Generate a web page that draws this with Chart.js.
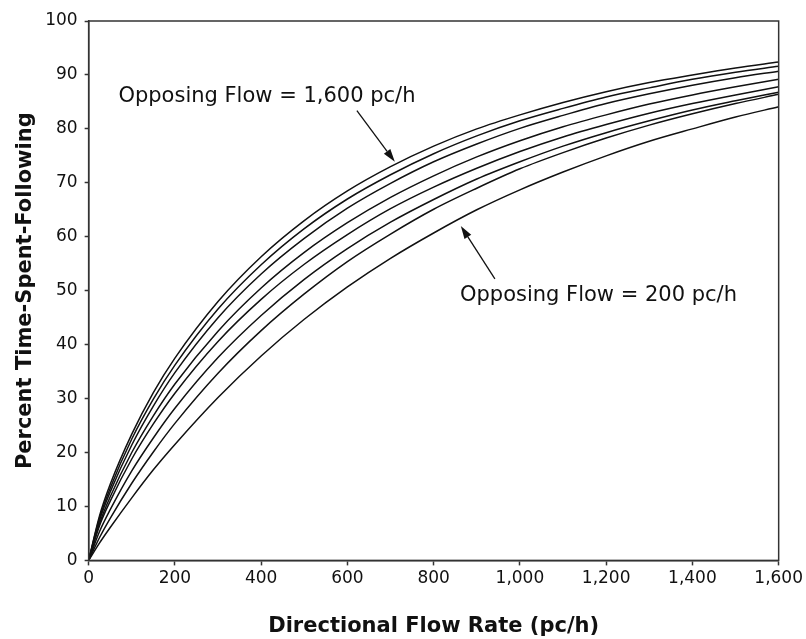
<!DOCTYPE html>
<html>
<head>
<meta charset="utf-8">
<script src="https://cdn.jsdelivr.net/npm/chart.js@4.4.1/dist/chart.umd.min.js"></script>
<style>
  html, body { margin: 0; padding: 0; background: #fff; }
  #wrap { width: 806px; height: 639px; }
</style>
</head>
<body>
<div id="wrap"><canvas id="chart" width="806" height="639"></canvas></div>
<script>
// Directional flow rate (pc/h) sample points
const flowRate = [0, 25, 50, 100, 150, 200, 300, 400, 500, 600, 700, 800, 900, 1000, 1100, 1200, 1300, 1400, 1500, 1600];

// Percent time-spent-following, one curve per opposing flow
const opp200  = [0, 3.2, 6.1, 11.6, 16.8, 21.5, 30.2, 37.9, 44.7, 50.7, 56.0, 60.7, 65.0, 68.7, 72.0, 75.0, 77.7, 80.0, 82.2, 84.1];
const opp400  = [0, 4.2, 7.8, 14.3, 20.1, 25.4, 34.7, 42.6, 49.4, 55.4, 60.5, 65.1, 69.0, 72.6, 75.6, 78.3, 80.7, 82.8, 84.7, 86.4];
const opp600  = [0, 5.3, 9.4, 16.6, 22.7, 28.2, 37.6, 45.4, 52.1, 57.8, 62.7, 66.9, 70.7, 73.9, 76.8, 79.3, 81.5, 83.5, 85.2, 86.8];
const opp800  = [0, 6.4, 11.0, 18.8, 25.3, 31.0, 40.6, 48.4, 54.9, 60.4, 65.2, 69.2, 72.7, 75.8, 78.5, 80.8, 82.9, 84.7, 86.3, 87.8];
const opp1000 = [0, 6.8, 11.8, 20.0, 26.8, 32.7, 42.5, 50.5, 57.1, 62.6, 67.3, 71.3, 74.8, 77.8, 80.4, 82.6, 84.6, 86.3, 87.8, 89.2];
const opp1200 = [0, 7.4, 12.7, 21.4, 28.6, 34.8, 45.0, 53.1, 59.7, 65.3, 69.9, 73.9, 77.2, 80.1, 82.5, 84.7, 86.5, 88.1, 89.5, 90.7];
const opp1400 = [0, 7.8, 13.4, 22.5, 29.9, 36.2, 46.6, 54.8, 61.5, 67.0, 71.5, 75.4, 78.7, 81.5, 83.8, 85.9, 87.6, 89.2, 90.5, 91.6];
const opp1600 = [0, 8.2, 14.1, 23.4, 31.1, 37.5, 48.0, 56.3, 63.0, 68.5, 73.0, 76.8, 80.0, 82.6, 84.9, 86.9, 88.6, 90.0, 91.3, 92.4];

const curves = [opp200, opp400, opp600, opp800, opp1000, opp1200, opp1400, opp1600];
const curveNames = ['200', '400', '600', '800', '1,000', '1,200', '1,400', '1,600'];

// Callout labels (data coordinates)
const noteText  = ['Opposing Flow = 1,600 pc/h', 'Opposing Flow = 200 pc/h'];
const noteAt    = [[69, 85.0], [861, 48.1]];
const arrowFrom = [[622, 83.4], [942, 52.2]];
const arrowTo   = [[710, 73.9], [863, 62.0]];

const FONT = "'DejaVu Sans', Verdana, sans-serif";

const frameAndNotes = {
  id: 'frameAndNotes',
  afterDatasetsDraw(chart) {
    const { ctx, chartArea: a, scales: { x, y } } = chart;
    ctx.save();
    ctx.strokeStyle = '#333';
    ctx.lineWidth = 1.5;
    ctx.strokeRect(a.left, a.top, a.right - a.left, a.bottom - a.top);

    ctx.fillStyle = '#111';
    ctx.font = '21px ' + FONT;
    ctx.textBaseline = 'alphabetic';
    ctx.textAlign = 'left';
    noteText.forEach((t, i) => {
      ctx.fillText(t, x.getPixelForValue(noteAt[i][0]), y.getPixelForValue(noteAt[i][1]));
    });

    ctx.strokeStyle = '#111';
    ctx.lineWidth = 1.3;
    arrowFrom.forEach((f, i) => {
      const x0 = x.getPixelForValue(f[0]), y0 = y.getPixelForValue(f[1]);
      const x1 = x.getPixelForValue(arrowTo[i][0]), y1 = y.getPixelForValue(arrowTo[i][1]);
      const ang = Math.atan2(y1 - y0, x1 - x0);
      const len = 13, half = 4;
      const bx = x1 - len * Math.cos(ang), by = y1 - len * Math.sin(ang);
      ctx.beginPath();
      ctx.moveTo(x0, y0);
      ctx.lineTo(bx, by);
      ctx.stroke();
      ctx.beginPath();
      ctx.moveTo(x1, y1);
      ctx.lineTo(bx + half * Math.sin(ang), by - half * Math.cos(ang));
      ctx.lineTo(bx - half * Math.sin(ang), by + half * Math.cos(ang));
      ctx.closePath();
      ctx.fill();
    });
    ctx.restore();
  }
};

new Chart(document.getElementById('chart').getContext('2d'), {
  type: 'line',
  data: {
    datasets: curves.map((c, i) => ({
      label: 'Opposing Flow ' + curveNames[i],
      data: flowRate.map((v, j) => ({ x: v, y: c[j] })),
      borderColor: '#111',
      borderWidth: 1.5,
      pointRadius: 0,
      fill: false,
      cubicInterpolationMode: 'monotone',
    })),
  },
  options: {
    responsive: false,
    animation: false,
    layout: { padding: { top: 21, right: 3, bottom: 0, left: 9 } },
    plugins: {
      legend: { display: false },
      tooltip: { enabled: false },
    },
    scales: {
      x: {
        type: 'linear',
        min: 0,
        max: 1600,
        border: { color: '#333', width: 1.5 },
        grid: { drawOnChartArea: false, color: '#333', tickLength: 5, tickWidth: 1.5 },
        ticks: {
          stepSize: 200,
          color: '#111',
          padding: 3,
          maxRotation: 0,
          font: { family: FONT, size: 17 },
          callback: v => v.toLocaleString('en-US'),
        },
        title: {
          display: true,
          text: 'Directional Flow Rate (pc/h)',
          color: '#111',
          padding: { top: 22, bottom: 0 },
          font: { family: FONT, size: 21, weight: 'bold' },
        },
      },
      y: {
        min: 0,
        max: 100,
        border: { color: '#333', width: 1.5 },
        grid: { drawOnChartArea: false, color: '#333', tickLength: 4, tickWidth: 1.5 },
        ticks: {
          stepSize: 10,
          color: '#111',
          padding: 7,
          font: { family: FONT, size: 17 },
        },
        title: {
          display: true,
          text: 'Percent Time-Spent-Following',
          color: '#111',
          padding: { top: 4, bottom: 0 },
          font: { family: FONT, size: 21, weight: 'bold' },
        },
      },
    },
  },
  plugins: [frameAndNotes],
});
</script>
</body>
</html>
